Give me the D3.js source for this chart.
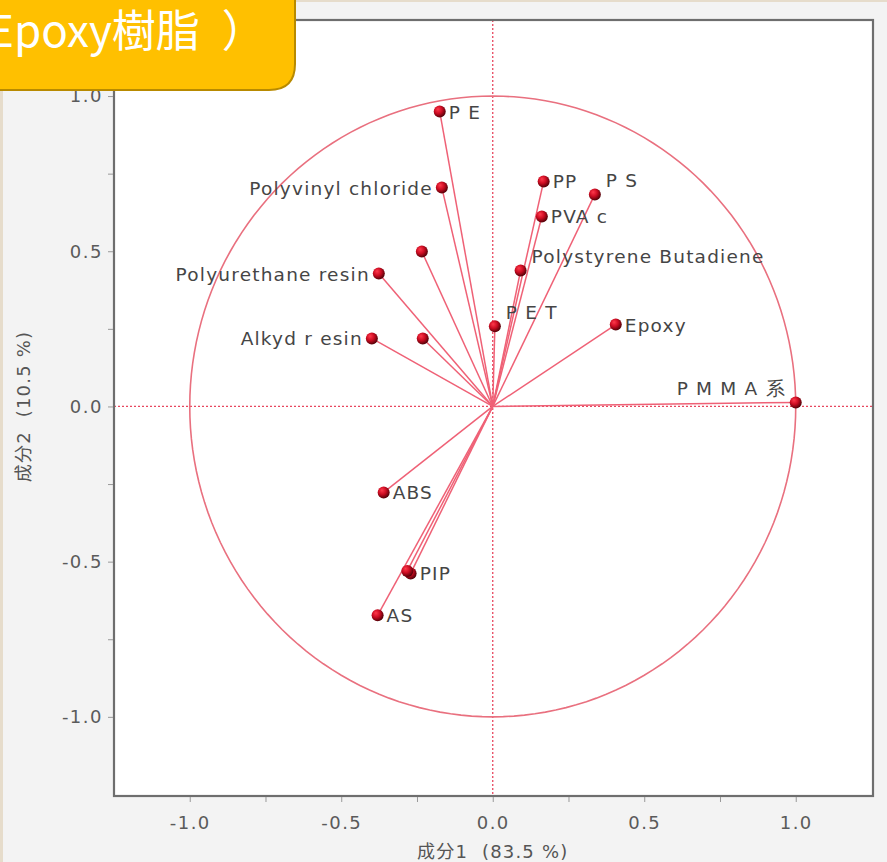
<!DOCTYPE html>
<html>
<head>
<meta charset="utf-8">
<script src="https://cdn.jsdelivr.net/npm/d3@7/dist/d3.min.js"></script>
<style>
  html, body { margin: 0; padding: 0; background: #f3f3f3; }
  svg { display: block; }
</style>
</head>
<body>
<svg id="chart" width="887" height="862"></svg>
<script>
// PCA loading plot: component 1 vs component 2
const variables = ["P E", "Polyvinyl chloride", "", "Polyurethane resin", "Alkyd  r esin", "",
  "P E T", "PP", "P S", "PVA c", "Polystyrene Butadiene", "Epoxy", "P M M A 系",
  "ABS", "PIP", "", "AS"];
const pc1 = [-0.175, -0.168, -0.234, -0.376, -0.399, -0.231,
  0.007, 0.168, 0.337, 0.162, 0.092, 0.406, 1.000,
  -0.360, -0.271, -0.282, -0.380];
const pc2 = [0.950, 0.705, 0.499, 0.428, 0.219, 0.219,
  0.258, 0.725, 0.683, 0.612, 0.438, 0.264, 0.013,
  -0.277, -0.538, -0.530, -0.673];
const tickValues = [-1.0, -0.5, 0.0, 0.5, 1.0];
const minorTicks = [-1.0, -0.75, -0.5, -0.25, 0.0, 0.25, 0.5, 0.75, 1.0];
const xTitle = "成分1  (83.5 %)";
const yTitle = "成分2  (10.5 %)";
const banner = "Epoxy樹脂\u2002）";

// where each label sits relative to its marker
const placement = {
  "P E": "right", "Polyvinyl chloride": "left", "Polyurethane resin": "left",
  "Alkyd  r esin": "left", "P E T": "upright", "PP": "right", "P S": "upright",
  "PVA c": "right", "Polystyrene Butadiene": "upright", "Epoxy": "right",
  "P M M A 系": "upleft", "ABS": "right", "PIP": "right", "AS": "right"
};

const svg = d3.select("#chart");
const W = 887, H = 862;
const frame = { left: 114, right: 873, top: 20, bottom: 796 };

// page background with a thin beige edge
svg.append("rect").attr("width", W).attr("height", H).attr("fill", "#f3f3f3");
svg.append("rect").attr("x", 0).attr("y", 0).attr("width", 3).attr("height", H).attr("fill", "#e6dccb");
svg.append("rect").attr("x", 0).attr("y", 0).attr("width", W).attr("height", 2).attr("fill", "#e6dccb");

const x = d3.scaleLinear().domain([-1.25, 1.255]).range([frame.left, frame.right]);
const y = d3.scaleLinear().domain([-1.255, 1.245]).range([frame.bottom, frame.top]);

// plot area
svg.append("rect")
  .attr("x", frame.left).attr("y", frame.top)
  .attr("width", frame.right - frame.left).attr("height", frame.bottom - frame.top)
  .attr("fill", "#ffffff");

const defs = svg.append("defs");
defs.append("clipPath").attr("id", "plotClip").append("rect")
  .attr("x", frame.left).attr("y", frame.top)
  .attr("width", frame.right - frame.left).attr("height", frame.bottom - frame.top);
const grad = defs.append("radialGradient").attr("id", "dotGrad")
  .attr("cx", "40%").attr("cy", "38%").attr("r", "65%").attr("fx", "35%").attr("fy", "30%");
grad.append("stop").attr("offset", "0%").attr("stop-color", "#ff3a4c");
grad.append("stop").attr("offset", "50%").attr("stop-color", "#cc0c22");
grad.append("stop").attr("offset", "100%").attr("stop-color", "#4a0006");

const plot = svg.append("g").attr("clip-path", "url(#plotClip)");

// zero reference lines
plot.append("line")
  .attr("x1", x(0)).attr("x2", x(0)).attr("y1", frame.top).attr("y2", frame.bottom)
  .attr("stroke", "#e8475f").attr("stroke-width", 1.3).attr("stroke-dasharray", "2,2");
plot.append("line")
  .attr("x1", frame.left).attr("x2", frame.right).attr("y1", y(0)).attr("y2", y(0))
  .attr("stroke", "#e8475f").attr("stroke-width", 1.3).attr("stroke-dasharray", "2,2");

// unit correlation circle
const circlePts = d3.range(0, 361, 2).map(a => [Math.cos(a * Math.PI / 180), Math.sin(a * Math.PI / 180)]);
plot.append("path")
  .datum(circlePts)
  .attr("d", d3.line().x(d => x(d[0])).y(d => y(d[1])))
  .attr("fill", "none").attr("stroke", "#e9707f").attr("stroke-width", 1.6);

const data = variables.map((name, i) => ({ name, v1: pc1[i], v2: pc2[i] }));

// loading vectors
plot.selectAll("line.vec").data(data).enter().append("line")
  .attr("class", "vec")
  .attr("x1", x(0)).attr("y1", y(0))
  .attr("x2", d => x(d.v1)).attr("y2", d => y(d.v2))
  .attr("stroke", "#ef6176").attr("stroke-width", 1.5);

// markers
plot.selectAll("circle.dot").data(data).enter().append("circle")
  .attr("class", "dot")
  .attr("cx", d => x(d.v1)).attr("cy", d => y(d.v2)).attr("r", 6)
  .attr("fill", "url(#dotGrad)");

// labels
const labelFont = "'DejaVu Sans', Verdana, sans-serif";
plot.selectAll("text.lab").data(data.filter(d => d.name)).enter().append("text")
  .attr("class", "lab")
  .attr("font-family", labelFont).attr("font-size", 18.5).attr("letter-spacing", 1.2)
  .attr("fill", "#454545")
  .attr("x", d => {
    const p = placement[d.name], cx = x(d.v1);
    if (p === "left") return cx - 9;
    if (p === "upleft") return cx - 10;
    if (p === "upright") return cx + 11;
    return cx + 9;
  })
  .attr("y", d => {
    const p = placement[d.name], cy = y(d.v2);
    if (p === "upright" || p === "upleft") return cy - 7;
    return cy + 7;
  })
  .attr("text-anchor", d => {
    const p = placement[d.name];
    return (p === "left" || p === "upleft") ? "end" : "start";
  })
  .text(d => d.name);

// frame
svg.append("rect")
  .attr("x", frame.left).attr("y", frame.top)
  .attr("width", frame.right - frame.left).attr("height", frame.bottom - frame.top)
  .attr("fill", "none").attr("stroke", "#6e6e6e").attr("stroke-width", 2.2);

// axes
const tickFont = "'DejaVu Sans', Verdana, sans-serif";
const fmt = d => d3.format(".1f")(d).replace("\u2212", "-");
const xAxis = svg.append("g").attr("transform", `translate(0,${frame.bottom})`)
  .call(d3.axisBottom(x).tickValues(minorTicks).tickSize(5).tickFormat(""));
xAxis.select(".domain").remove();
xAxis.selectAll(".tick line").attr("stroke", "#999").attr("transform", "translate(0,1)");
const xLab = svg.append("g").attr("transform", `translate(0,${frame.bottom})`)
  .call(d3.axisBottom(x).tickValues(tickValues).tickSize(0).tickPadding(20).tickFormat(fmt));
xLab.select(".domain").remove();
xLab.selectAll("text").attr("font-family", tickFont).attr("font-size", 18)
  .attr("letter-spacing", 1.5).attr("fill", "#5a5a5a");

const yAxis = svg.append("g").attr("transform", `translate(${frame.left},0)`)
  .call(d3.axisLeft(y).tickValues(minorTicks).tickSize(5).tickFormat(""));
yAxis.select(".domain").remove();
yAxis.selectAll(".tick line").attr("stroke", "#999").attr("transform", "translate(-1,0)");
const yLab = svg.append("g").attr("transform", `translate(${frame.left},0)`)
  .call(d3.axisLeft(y).tickValues(tickValues).tickSize(0).tickPadding(11).tickFormat(fmt));
yLab.select(".domain").remove();
yLab.selectAll("text").attr("font-family", tickFont).attr("font-size", 18)
  .attr("letter-spacing", 1.5).attr("fill", "#5a5a5a");

// axis titles
const titleFont = "'DejaVu Sans', 'Noto Sans CJK JP', sans-serif";
svg.append("text")
  .attr("x", x(0)).attr("y", 858).attr("text-anchor", "middle")
  .attr("font-family", titleFont).attr("letter-spacing", 1.2)
  .attr("font-size", 18).attr("fill", "#555")
  .attr("xml:space", "preserve")
  .text(xTitle);
svg.append("text")
  .attr("transform", `translate(30,${y(0)}) rotate(-90)`)
  .attr("text-anchor", "middle")
  .attr("font-family", titleFont).attr("letter-spacing", 1.2)
  .attr("font-size", 18).attr("fill", "#555")
  .attr("xml:space", "preserve")
  .text(yTitle);

// banner heading
svg.append("path")
  .attr("d", "M -10 -10 L 295 -10 L 295 64 Q 295 90 269 90 L -10 90 Z")
  .attr("fill", "#ffc000").attr("stroke", "#b88a00").attr("stroke-width", 2);
svg.append("text")
  .attr("x", -12).attr("y", 47)
  .attr("font-family", "'Noto Sans CJK JP', 'Noto Sans', sans-serif")
  .attr("font-size", 44).attr("fill", "#ffffff")
  .text(banner);
</script>
</body>
</html>
